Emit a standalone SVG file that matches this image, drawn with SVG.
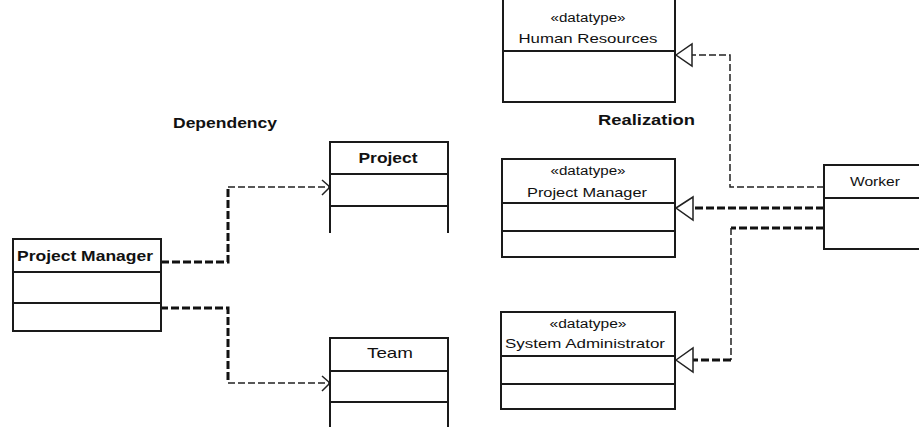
<svg xmlns="http://www.w3.org/2000/svg" width="919" height="427" viewBox="0 0 919 427">
<style>
.box{fill:#fff;stroke:#1a1a1a;stroke-width:2}
.ln{stroke:#1a1a1a;stroke-width:2;fill:none}
.t{font-family:"Liberation Sans",Arial,sans-serif;fill:#111}
.b{font-weight:bold}
.thick{stroke:#111;stroke-width:3;fill:none;stroke-dasharray:8,3}
.thin{stroke:#222;stroke-width:1.5;fill:none;stroke-dasharray:7,3}
.tri{fill:#fff;stroke:#222;stroke-width:1.5}
.arr{stroke:#222;stroke-width:1.5;fill:none}
</style>
<rect width="919" height="427" fill="#fff"/>
<text class="t b" x="173" y="128" font-size="14" textLength="104" lengthAdjust="spacingAndGlyphs">Dependency</text>
<text class="t b" x="598" y="125" font-size="14" textLength="97" lengthAdjust="spacingAndGlyphs">Realization</text>

<g id="connectors">
  <polyline class="thick" points="161,262 228,262 228,187"/>
  <line class="thin" x1="228" y1="187" x2="330" y2="187"/>
  <polyline class="arr" points="322,180 330,187 322,195"/>
  <polyline class="thick" points="160,308 228,308 228,383"/>
  <line class="thin" x1="228" y1="383" x2="330" y2="383"/>
  <polyline class="arr" points="322,376 330,383 322,391"/>

  <polyline class="thin" points="824,187 730,187 730,55 692,55"/>
  <polygon class="tri" points="676,55 692,44 692,66"/>
  <line class="thick" x1="824" y1="208" x2="693" y2="208"/>
  <polygon class="tri" points="676,208 693,197 693,220"/>
  <line class="thick" x1="824" y1="228" x2="731" y2="228"/>
  <line class="thin" x1="731" y1="228" x2="731" y2="360" stroke-dasharray="14,2"/>
  <line class="thick" x1="731" y1="360" x2="693" y2="360"/>
  <polygon class="tri" points="676,360 693,348 693,372"/>
</g>

<g id="pm-left">
  <rect class="box" x="13" y="239" width="148" height="92"/>
  <line class="ln" x1="13" y1="272" x2="161" y2="272"/>
  <line class="ln" x1="13" y1="303" x2="161" y2="303"/>
  <text class="t b" x="17" y="261" font-size="15" textLength="136" lengthAdjust="spacingAndGlyphs">Project Manager</text>
</g>

<g id="project">
  <path class="ln" d="M330,233 V142 H448 V233 M330,174 H448 M330,206 H448"/>
  <text class="t b" x="388" y="163" font-size="14" text-anchor="middle" textLength="59" lengthAdjust="spacingAndGlyphs">Project</text>
</g>

<g id="team">
  <path class="ln" d="M330,428 V338 H448 V428 M330,371 H448 M330,402 H448"/>
  <text class="t" x="390" y="358" font-size="15" text-anchor="middle" textLength="46" lengthAdjust="spacingAndGlyphs">Team</text>
</g>

<g id="human-resources">
  <path class="ln" d="M503,-2 V102 H675 V-2 M503,51 H675"/>
  <text class="t" x="588" y="22" font-size="12" text-anchor="middle" textLength="75" lengthAdjust="spacingAndGlyphs">«datatype»</text>
  <text class="t" x="588" y="43" font-size="13" text-anchor="middle" textLength="139" lengthAdjust="spacingAndGlyphs">Human Resources</text>
</g>

<g id="pm-right">
  <rect class="box" x="502" y="159" width="173" height="98"/>
  <line class="ln" x1="502" y1="203" x2="675" y2="203"/>
  <line class="ln" x1="502" y1="231" x2="675" y2="231"/>
  <text class="t" x="588" y="175" font-size="12" text-anchor="middle" textLength="75" lengthAdjust="spacingAndGlyphs">«datatype»</text>
  <text class="t" x="587" y="197" font-size="13" text-anchor="middle" textLength="120" lengthAdjust="spacingAndGlyphs">Project Manager</text>
</g>

<g id="sysadmin">
  <rect class="box" x="501" y="312" width="174" height="97"/>
  <line class="ln" x1="501" y1="356" x2="675" y2="356"/>
  <line class="ln" x1="501" y1="384" x2="675" y2="384"/>
  <text class="t" x="588" y="328" font-size="12" text-anchor="middle" textLength="77" lengthAdjust="spacingAndGlyphs">«datatype»</text>
  <text class="t" x="585" y="348" font-size="13" text-anchor="middle" textLength="160" lengthAdjust="spacingAndGlyphs">System Administrator</text>
</g>

<g id="worker">
  <rect class="box" x="824" y="165" width="110" height="84"/>
  <line class="ln" x1="824" y1="198" x2="934" y2="198"/>
  <text class="t" x="875" y="186" font-size="13" text-anchor="middle" textLength="50" lengthAdjust="spacingAndGlyphs">Worker</text>
</g>
</svg>
